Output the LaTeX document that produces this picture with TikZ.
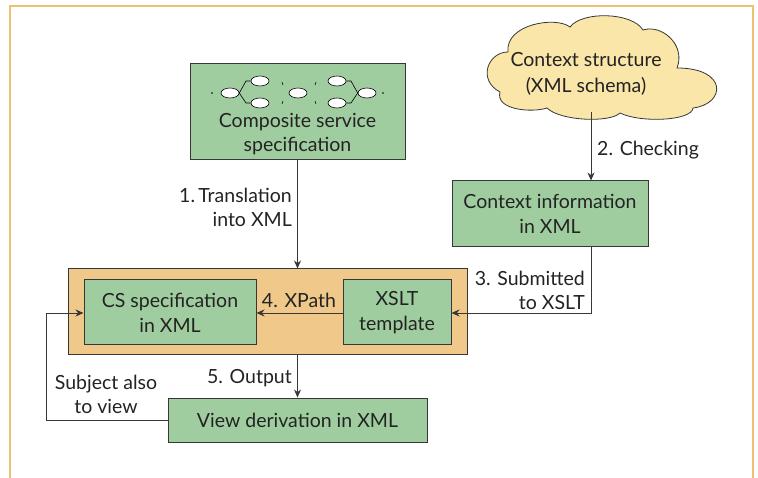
\documentclass[tikz,border=0pt]{standalone}
\usepackage{fontspec}
\setmainfont{Lato}
\usetikzlibrary{arrows.meta,shapes.symbols,shapes.geometric}
\definecolor{boxgreen}{RGB}{160,205,160}
\definecolor{boxline}{RGB}{55,55,55}
\definecolor{txt}{RGB}{35,35,35}
\definecolor{orangefill}{RGB}{239,200,138}
\definecolor{cloudfill}{RGB}{249,230,168}
\definecolor{framecol}{RGB}{240,192,112}
\tikzset{
  gbox/.style={draw=boxline, line width=1pt, fill=boxgreen, align=center, font=\fontsize{19.5}{25}\selectfont, text=txt, inner sep=0pt},
  conn/.style={draw=boxline, line width=0.9pt, -{Stealth[length=8pt,width=7pt]}},
  lbl/.style={font=\fontsize{19.5}{24}\selectfont, text=txt, inner sep=0pt},
  ell/.style={draw=black, line width=0.6pt, fill=white, ellipse, minimum width=18pt, minimum height=10pt, inner sep=0pt},
}
\begin{document}
\begin{tikzpicture}[x=1pt,y=-1pt]
\useasboundingbox (0,0) rectangle (758,478);
% frame
\draw[framecol, line width=1.6pt] (10,478) -- (10,6) -- (753,6) -- (753,478);
% composite box
\node[gbox, minimum width=215pt, minimum height=96pt] (comp) at (297.5,112) {};
\node[lbl, align=center] (comptext) at (297.5,134) {Composite service\\specification};
\node[ell] (e1) at (230,93) {};
\node[ell] (e2) at (260,81) {};
\node[ell] (e3) at (260,103) {};
\node[ell] (e4) at (298,93) {};
\node[ell] (e5) at (337,81) {};
\node[ell] (e6) at (337,103) {};
\node[ell] (e7) at (367,93) {};
\draw[line width=0.6pt] (e1.east) -- (246,81) -- (e2.west);
\draw[line width=0.6pt] (e1.east) -- (246,103) -- (e3.west);
\draw[line width=0.6pt] (e7.west) -- (351,81) -- (e5.east);
\draw[line width=0.6pt] (e7.west) -- (351,103) -- (e6.east);
\fill (212,93) circle (0.8pt);
\fill (383,93) circle (0.8pt);
\draw[line width=0.6pt] (282,82) -- (283,85);
\draw[line width=0.6pt] (283,101) -- (282,104);
\draw[line width=0.6pt] (315,85) -- (316,82);
\draw[line width=0.6pt] (315,101) -- (316,104);
% cloud
\draw[boxline, line width=0.8pt, fill=cloudfill]
  (508,52) .. controls (488,52) and (477,80) .. (500,92)
  .. controls (495,110) and (532,113) .. (547,108)
  .. controls (560,121) and (610,123) .. (620,113)
  .. controls (640,123) and (692,121) .. (693,108)
  .. controls (726,104) and (728,68) .. (677,68)
  .. controls (686,45) and (662,24) .. (643,30)
  .. controls (632,12) and (582,11) .. (570,27)
  .. controls (556,16) and (505,24) .. (508,52) -- cycle;
\node[lbl, align=center, font=\fontsize{19.5}{25.5}\selectfont] (cloudtext) at (586,74) {Context structure\\(XML schema)};
\coordinate (cloudbot) at (591,112);
% context info
\node[gbox, minimum width=196pt, minimum height=66pt] (ctx) at (550,214) {Context information\\in XML};
% big orange
\node[draw=boxline, line width=1pt, fill=orangefill, minimum width=399pt, minimum height=86pt, inner sep=0pt] (big) at (267.5,312) {};
\node[gbox, minimum width=172pt, minimum height=65pt] (cs) at (170,312.5) {CS specification\\in XML};
\node[gbox, minimum width=108pt, minimum height=65pt] (xslt) at (397,312.5) {XSLT\\template};
% view
\node[gbox, minimum width=259pt, minimum height=44pt] (view) at (297.5,420) {View derivation in XML};
% connectors
\draw[conn] (comp.south) -- (comp.south |- big.north);
\node[lbl, align=right, anchor=east] (l1) at (292,207) {1.\,Translation\\into XML};
\draw[conn] (cloudbot) -- (cloudbot |- ctx.north);
\node[lbl, anchor=west] (l2) at (597,150) {2. Checking};
\coordinate (c3) at (591,313);
\draw[conn] (c3 |- ctx.south) -- (c3) -- (xslt.east |- c3);
\node[lbl, align=right, anchor=east] (l3) at (585,290) {3. Submitted\\to XSLT};
\draw[conn] (xslt.west |- c3) -- (cs.east |- c3);
\node[lbl, anchor=south] (l4) at (299,308) {4. XPath};
\draw[conn] (big.south -| comp.south) -- (view.north);
\node[lbl, anchor=east] (l5) at (292,378) {5. Output};
\coordinate (c6) at (46,420);
\coordinate (c7) at (46,313);
\draw[conn] (view.west) -- (c6) -- (c7) -- (cs.west |- c7);
\node[lbl, align=center] (l6) at (106,394) {Subject also\\to view};
\end{tikzpicture}
\end{document}
